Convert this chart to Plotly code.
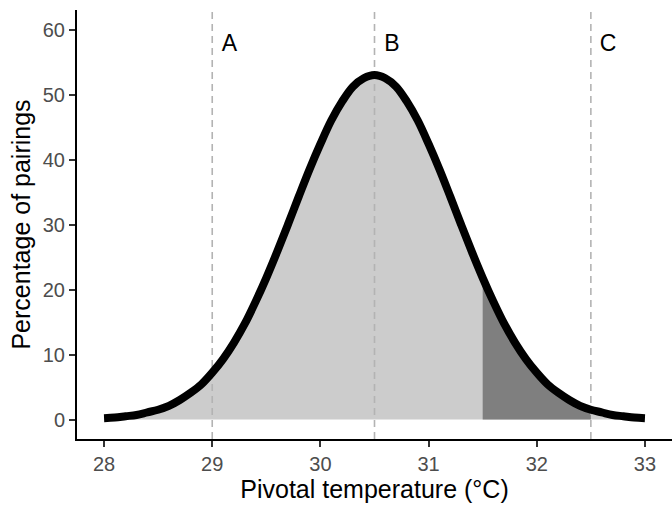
import plotly.graph_objects as go

# Pivotal temperature (°C), step 0.1 from 28 to 33
temp = [round(28 + 0.1 * i, 1) for i in range(51)]
# Percentage of pairings
pct = [0.2, 0.3, 0.5, 0.7, 1.1, 1.5, 2.1, 3.0, 4.1, 5.4,
       7.2, 9.3, 11.8, 14.7, 18.1, 21.8, 25.8, 30.0, 34.3, 38.5,
       42.4, 46.0, 48.9, 51.2, 52.5, 53.0, 52.5, 51.2, 48.9, 46.0,
       42.4, 38.5, 34.3, 30.0, 25.8, 21.8, 18.1, 14.7, 11.8, 9.3,
       7.2, 5.4, 4.1, 3.0, 2.1, 1.5, 1.1, 0.7, 0.5, 0.3, 0.2]

dark_range = [31.5, 32.5]
vline_x = [29, 30.5, 32.5]
labels = ["A", "B", "C"]
label_x = [29.16, 30.66, 32.66]
label_y = 57.6

x_ticks = [28, 29, 30, 31, 32, 33]
y_ticks = [0, 10, 20, 30, 40, 50, 60]
x_range = [27.75, 33.25]
y_range = [-3, 63]

dark_x = [t for t in temp if dark_range[0] <= t <= dark_range[1]]
dark_y = [p for t, p in zip(temp, pct) if dark_range[0] <= t <= dark_range[1]]

fig = go.Figure()
fig.add_trace(go.Scatter(x=temp, y=pct, mode="lines", fill="tozeroy",
                         fillcolor="#cccccc", line=dict(width=0),
                         hoverinfo="skip", showlegend=False))
fig.add_trace(go.Scatter(x=dark_x, y=dark_y, mode="lines", fill="tozeroy",
                         fillcolor="#7f7f7f", line=dict(width=0),
                         hoverinfo="skip", showlegend=False))
for vx in vline_x:
    fig.add_trace(go.Scatter(x=[vx, vx], y=y_range, mode="lines",
                             line=dict(color="#b3b3b3", width=1.6, dash="7px,5px"),
                             hoverinfo="skip", showlegend=False))
fig.add_trace(go.Scatter(x=temp, y=pct, mode="lines",
                         line=dict(color="black", width=8, shape="spline"),
                         showlegend=False))
fig.add_trace(go.Scatter(x=label_x, y=[label_y] * len(labels), mode="text",
                         text=labels, textfont=dict(size=23, color="black",
                                                    family="Liberation Sans"),
                         showlegend=False))

fig.update_layout(
    width=672, height=506,
    margin=dict(l=77, r=0, t=10, b=67),
    plot_bgcolor="white", paper_bgcolor="white",
    font=dict(family="Liberation Sans", color="black"),
    xaxis=dict(range=x_range, tickvals=x_ticks, showgrid=False, zeroline=False,
               showline=True, linecolor="black", linewidth=2,
               ticks="outside", ticklen=6, tickwidth=1.5, tickcolor="#333333",
               tickfont=dict(size=20, color="#4d4d4d"),
               title=dict(text="Pivotal temperature (°C)", font=dict(size=25, color="black"),
                          standoff=5)),
    yaxis=dict(range=y_range, tickvals=y_ticks, showgrid=False, zeroline=False,
               showline=True, linecolor="black", linewidth=2,
               ticks="outside", ticklen=6, tickwidth=1.5, tickcolor="#333333",
               tickfont=dict(size=20, color="#4d4d4d"),
               title=dict(text="Percentage of pairings", font=dict(size=25, color="black"),
                          standoff=5)),
)

fig.write_html("out.html")
